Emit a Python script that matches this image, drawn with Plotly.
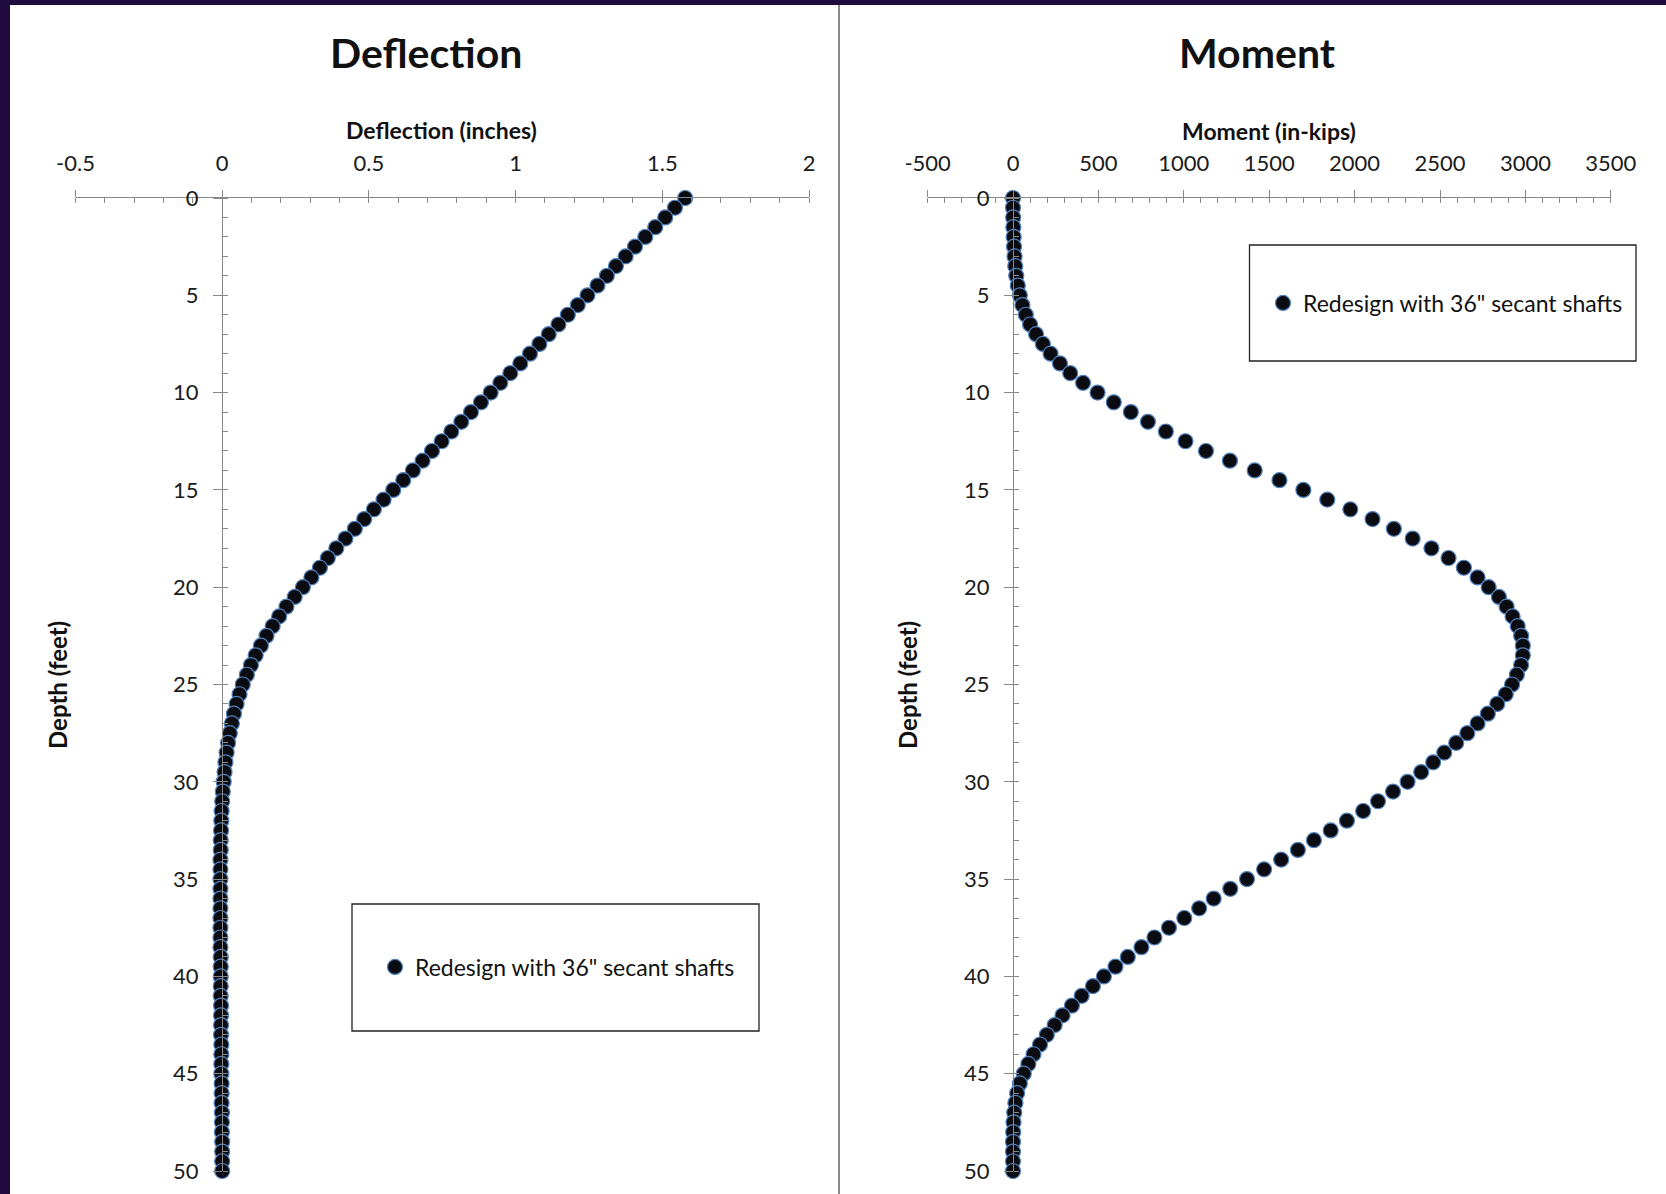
import plotly.graph_objects as go

# ---------------- data ----------------
depth_ft = [0, 0.5, 1, 1.5, 2, 2.5, 3, 3.5, 4, 4.5, 5, 5.5, 6, 6.5, 7, 7.5, 8, 8.5, 9, 9.5,
            10, 10.5, 11, 11.5, 12, 12.5, 13, 13.5, 14, 14.5, 15, 15.5, 16, 16.5, 17, 17.5, 18, 18.5, 19, 19.5,
            20, 20.5, 21, 21.5, 22, 22.5, 23, 23.5, 24, 24.5, 25, 25.5, 26, 26.5, 27, 27.5, 28, 28.5, 29, 29.5,
            30, 30.5, 31, 31.5, 32, 32.5, 33, 33.5, 34, 34.5, 35, 35.5, 36, 36.5, 37, 37.5, 38, 38.5, 39, 39.5,
            40, 40.5, 41, 41.5, 42, 42.5, 43, 43.5, 44, 44.5, 45, 45.5, 46, 46.5, 47, 47.5, 48, 48.5, 49, 49.5,
            50]

deflection_in = [1.578, 1.543, 1.510, 1.476, 1.442, 1.407, 1.375, 1.342, 1.311, 1.279,
                 1.245, 1.212, 1.178, 1.146, 1.113, 1.081, 1.049, 1.016, 0.982, 0.948,
                 0.915, 0.882, 0.848, 0.815, 0.781, 0.748, 0.715, 0.683, 0.650, 0.617,
                 0.583, 0.550, 0.517, 0.484, 0.452, 0.420, 0.389, 0.360, 0.333, 0.304,
                 0.275, 0.247, 0.219, 0.194, 0.172, 0.151, 0.132, 0.114, 0.098, 0.084,
                 0.070, 0.059, 0.049, 0.040, 0.033, 0.026, 0.020, 0.015, 0.011, 0.008,
                 0.005, 0.002, 0.000, -0.002, -0.003, -0.004, -0.005, -0.005, -0.006, -0.006,
                 -0.006, -0.006, -0.006, -0.006, -0.006, -0.006, -0.006, -0.006, -0.005, -0.005,
                 -0.005, -0.005, -0.005, -0.004, -0.004, -0.004, -0.004, -0.003, -0.003, -0.003,
                 -0.003, -0.002, -0.002, -0.002, -0.001, -0.001, -0.001, 0.000, 0.000, 0.000,
                 0.000]

moment_inkips = [0, 0, 1, 2, 4, 6, 9, 13, 19, 28,
                 40, 55, 75, 100, 135, 175, 220, 275, 335, 410,
                 495, 590, 690, 790, 895, 1010, 1130, 1270, 1415, 1560,
                 1700, 1840, 1975, 2105, 2230, 2340, 2450, 2550, 2640, 2720,
                 2785, 2845, 2890, 2925, 2955, 2975, 2985, 2985, 2975, 2950,
                 2922, 2885, 2835, 2780, 2720, 2660, 2595, 2525, 2460, 2390,
                 2310, 2225, 2137, 2050, 1955, 1860, 1762, 1668, 1570, 1470,
                 1370, 1272, 1175, 1090, 1003, 913, 828, 752, 672, 600,
                 532, 468, 402, 345, 290, 244, 198, 158, 120, 90,
                 63, 40, 24, 14, 7, 3, 1, 0, 0, 0,
                 0]

series_name = 'Redesign with 36" secant shafts'
panel_titles = ["Deflection", "Moment"]
x_titles = ["Deflection (inches)", "Moment (in-kips)"]
y_title = "Depth (feet)"

defl_tickvals = [-0.5, 0, 0.5, 1, 1.5, 2]
defl_ticktext = ["-0.5", "0", "0.5", "1", "1.5", "2"]
mom_tickvals = [-500, 0, 500, 1000, 1500, 2000, 2500, 3000, 3500]
mom_ticktext = ["-500", "0", "500", "1000", "1500", "2000", "2500", "3000", "3500"]
depth_tickvals = [0, 5, 10, 15, 20, 25, 30, 35, 40, 45, 50]
depth_ticktext = ["0", "5", "10", "15", "20", "25", "30", "35", "40", "45", "50"]

# ---------------- layout helpers ----------------
W, H = 1666, 1194
FONT = "Lato, 'Open Sans', sans-serif"

def px(x):
    return x / W

def py(y):
    return 1 - y / H

marker = dict(size=15, color="#0b0b12", line=dict(color="#4f81bd", width=1.2))

fig = go.Figure()
fig.add_trace(go.Scatter(x=deflection_in, y=depth_ft, mode="markers", name=series_name,
                         marker=marker, xaxis="x", yaxis="y", cliponaxis=False, legend="legend"))
fig.add_trace(go.Scatter(x=moment_inkips, y=depth_ft, mode="markers", name=series_name,
                         marker=marker, xaxis="x2", yaxis="y2", cliponaxis=False, legend="legend2"))

ydom = [py(1171), py(198)]
axis_line = "#888888"
tickfont = dict(family=FONT, size=22, color="#1a1a1a")

common_x = dict(side="top", showgrid=False, zeroline=False, showline=True, linecolor=axis_line,
                linewidth=1, ticks="outside", ticklen=7, tickcolor=axis_line, tickfont=tickfont,
                ticklabelstandoff=10, fixedrange=True, automargin=False)
common_y = dict(range=[50, 0], domain=ydom, showgrid=False, zeroline=False, showline=True,
                linecolor=axis_line, linewidth=1, ticks="outside", ticklen=9, tickcolor=axis_line,
                tickvals=depth_tickvals, ticktext=depth_ticktext, tickfont=tickfont,
                ticklabelstandoff=10, anchor="free", automargin=False,
                minor=dict(ticks="inside", ticklen=5, tickcolor=axis_line, tick0=0, dtick=1, showgrid=False),
                fixedrange=True)

fig.update_layout(
    width=W, height=H, autosize=False,
    margin=dict(l=0, r=0, t=0, b=0, pad=0, autoexpand=False),
    paper_bgcolor="white", plot_bgcolor="rgba(0,0,0,0)",
    font=dict(family=FONT, color="#111111"),
    xaxis=dict(common_x, domain=[px(75.5), px(809)], range=[-0.5, 2], anchor="y",
               tickvals=defl_tickvals, ticktext=defl_ticktext,
               minor=dict(ticks="inside", ticklen=5, tickcolor=axis_line, tick0=0, dtick=0.1, showgrid=False)),
    yaxis=dict(common_y, position=px(222)),
    xaxis2=dict(common_x, domain=[px(927.6), px(1610.8)], range=[-500, 3500], anchor="y2",
                tickvals=mom_tickvals, ticktext=mom_ticktext,
                minor=dict(ticks="inside", ticklen=5, tickcolor=axis_line, tick0=0, dtick=100, showgrid=False)),
    yaxis2=dict(common_y, position=px(1013)),
    legend=dict(x=px(375), y=py(967), xanchor="left", yanchor="middle", bgcolor="rgba(0,0,0,0)",
                borderwidth=0, font=dict(family=FONT, size=23, color="#111111")),
    legend2=dict(x=px(1263), y=py(303), xanchor="left", yanchor="middle", bgcolor="rgba(0,0,0,0)",
                 borderwidth=0, font=dict(family=FONT, size=23, color="#111111")),
    showlegend=True,
)

# titles and axis titles as annotations
title_pos = [(426, 53), (1257, 53)]
xt_pos = [(441, 130), (1269, 131)]
yt_pos = [(58, 685), (908, 685)]
for i in range(2):
    fig.add_annotation(text=panel_titles[i], x=px(title_pos[i][0]), y=py(title_pos[i][1]),
                       xref="paper", yref="paper", showarrow=False, xanchor="center", yanchor="middle",
                       font=dict(family=FONT, size=41, color="#111111", weight="bold"))
    fig.add_annotation(text=x_titles[i], x=px(xt_pos[i][0]), y=py(xt_pos[i][1]),
                       xref="paper", yref="paper", showarrow=False, xanchor="center", yanchor="middle",
                       font=dict(family=FONT, size=23, color="#111111", weight="bold"))
    fig.add_annotation(text=y_title, x=px(yt_pos[i][0]), y=py(yt_pos[i][1]), textangle=-90,
                       xref="paper", yref="paper", showarrow=False, xanchor="center", yanchor="middle",
                       font=dict(family=FONT, size=24, color="#111111", weight="bold"))

# decorative frame: purple border, panel divider, legend boxes
purple = "#1f0b3d"
fig.add_shape(type="rect", xref="paper", yref="paper", x0=0, x1=px(10), y0=0, y1=1,
              fillcolor=purple, line=dict(width=0), layer="above")
fig.add_shape(type="rect", xref="paper", yref="paper", x0=0, x1=1, y0=py(5), y1=1,
              fillcolor=purple, line=dict(width=0), layer="above")
fig.add_shape(type="line", xref="paper", yref="paper", x0=px(839), x1=px(839), y0=0, y1=py(5),
              line=dict(color="#8a8a8a", width=2), layer="above")
fig.add_shape(type="rect", xref="paper", yref="paper", x0=px(352), x1=px(759), y0=py(1031), y1=py(904),
              line=dict(color="#222222", width=1.3), fillcolor="rgba(0,0,0,0)")
fig.add_shape(type="rect", xref="paper", yref="paper", x0=px(1249.5), x1=px(1636), y0=py(361), y1=py(245),
              line=dict(color="#222222", width=1.3), fillcolor="rgba(0,0,0,0)")

fig.write_html("out.html", config={"displayModeBar": False},
               post_script="document.body.style.margin='0';document.body.style.overflow='hidden';")
